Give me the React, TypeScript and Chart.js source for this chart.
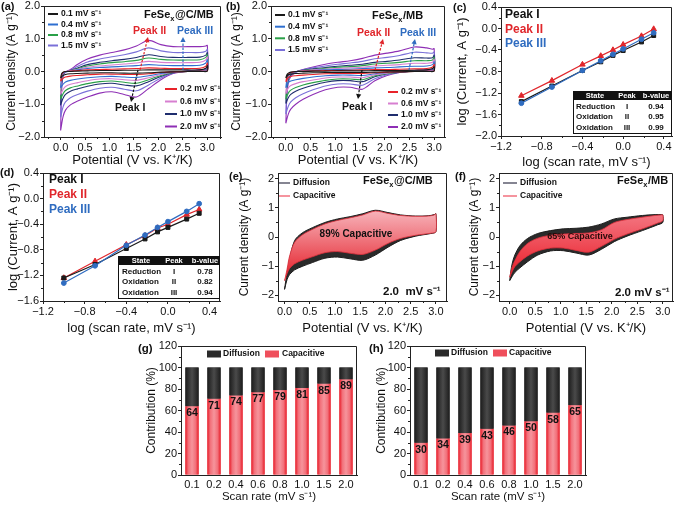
import React, { useEffect, useRef } from 'react';
import { Chart, registerables } from 'chart.js';

Chart.register(...registerables);

const FONT = '"Liberation Sans", Arial, Helvetica, sans-serif';
Chart.defaults.font.family = FONT;

// ================= DATA =================
const SCAN_RATES = ['0.1', '0.2', '0.4', '0.6', '0.8', '1.0', '1.5', '2.0'];
const LOG_RATE = [-1.0, -0.7, -0.4, -0.22, -0.1, 0.0, 0.18, 0.3];

// tick values
const CV_X_TICKS = [0, 0.5, 1, 1.5, 2, 2.5, 3];
const CV_Y_TICKS = [-2, -1, 0, 1, 2];
const LOG_X_TICKS = [-1.2, -0.8, -0.4, 0, 0.4];
const C_Y_TICKS = [-2.0, -1.6, -1.2, -0.8, -0.4, 0, 0.4];
const D_Y_TICKS = [-1.6, -1.2, -0.8, -0.4, 0, 0.4];
const BAR_Y_TICKS = [0, 20, 40, 60, 80, 100, 120];

// potentials of the anodic (upper) and cathodic (lower) branches, V vs K+/K
const CV_UP_E = [0.0, 0.02, 0.05, 0.1, 0.2, 0.35, 0.55, 0.8, 1.05, 1.3, 1.55, 1.8, 2.05, 2.3, 2.6, 2.85, 2.97, 3.0];
const CV_LOW_E = [3.0, 2.9, 2.6, 2.3, 2.05, 1.8, 1.55, 1.3, 1.05, 0.8, 0.55, 0.35, 0.2, 0.1, 0.05, 0.0];

// (a) FeSex@C/MB
const A01_UP = [-0.20, -0.07, -0.02, 0.0, 0.0, 0.01, 0.02, 0.03, 0.03, 0.04, 0.04, 0.05, 0.05, 0.05, 0.05, 0.05, 0.10, 0.18];
const A01_LO = [0.01, 0.0, 0.0, -0.01, -0.02, -0.04, -0.05, -0.05, -0.04, -0.04, -0.05, -0.06, -0.07, -0.09, -0.12, -0.20];
const A02_UP = [-0.30, -0.11, -0.03, 0.0, 0.01, 0.03, 0.05, 0.06, 0.07, 0.08, 0.09, 0.11, 0.10, 0.09, 0.09, 0.10, 0.16, 0.26];
const A02_LO = [0.02, 0.01, 0.0, -0.01, -0.03, -0.07, -0.09, -0.09, -0.08, -0.08, -0.10, -0.12, -0.14, -0.17, -0.21, -0.30];
const A04_UP = [-0.50, -0.18, -0.05, -0.01, 0.01, 0.05, 0.09, 0.12, 0.14, 0.16, 0.18, 0.21, 0.19, 0.18, 0.18, 0.19, 0.26, 0.36];
const A04_LO = [0.03, 0.02, 0.0, -0.02, -0.06, -0.13, -0.18, -0.17, -0.15, -0.16, -0.19, -0.23, -0.27, -0.32, -0.39, -0.50];
const A06_UP = [-0.70, -0.25, -0.07, -0.01, 0.02, 0.07, 0.13, 0.17, 0.20, 0.23, 0.26, 0.31, 0.28, 0.27, 0.27, 0.28, 0.35, 0.45];
const A06_LO = [0.04, 0.02, 0.0, -0.02, -0.09, -0.19, -0.27, -0.25, -0.22, -0.23, -0.28, -0.34, -0.39, -0.46, -0.55, -0.70];
const A08_UP = [-0.85, -0.30, -0.08, -0.01, 0.02, 0.09, 0.17, 0.23, 0.27, 0.30, 0.34, 0.41, 0.37, 0.35, 0.35, 0.36, 0.43, 0.52];
const A08_LO = [0.05, 0.03, 0.0, -0.03, -0.12, -0.25, -0.36, -0.33, -0.29, -0.31, -0.37, -0.44, -0.50, -0.58, -0.68, -0.85];
const A10_UP = [-1.00, -0.36, -0.09, -0.01, 0.03, 0.11, 0.21, 0.28, 0.33, 0.37, 0.43, 0.51, 0.46, 0.43, 0.43, 0.44, 0.50, 0.58];
const A10_LO = [0.06, 0.04, 0.01, -0.04, -0.15, -0.31, -0.44, -0.41, -0.36, -0.38, -0.45, -0.53, -0.60, -0.70, -0.82, -1.02];
const A15_UP = [-1.40, -0.48, -0.12, -0.02, 0.04, 0.16, 0.29, 0.38, 0.45, 0.51, 0.60, 0.72, 0.63, 0.58, 0.58, 0.58, 0.62, 0.68];
const A15_LO = [0.08, 0.05, 0.01, -0.05, -0.20, -0.41, -0.59, -0.54, -0.48, -0.51, -0.60, -0.70, -0.80, -0.93, -1.08, -1.40];
const A20_UP = [-1.80, -0.60, -0.15, -0.02, 0.06, 0.22, 0.38, 0.50, 0.58, 0.66, 0.78, 0.95, 0.82, 0.76, 0.76, 0.76, 0.78, 0.80];
const A20_LO = [0.10, 0.06, 0.02, -0.06, -0.25, -0.52, -0.78, -0.70, -0.62, -0.66, -0.78, -0.90, -1.02, -1.18, -1.38, -1.80];

// (b) FeSex/MB
const B01_UP = [-0.20, -0.10, -0.05, -0.02, 0.0, 0.0, 0.01, 0.01, 0.02, 0.02, 0.02, 0.03, 0.03, 0.03, 0.04, 0.05, 0.09, 0.15];
const B01_LO = [0.01, 0.0, 0.0, -0.01, -0.01, -0.02, -0.03, -0.03, -0.03, -0.03, -0.04, -0.05, -0.06, -0.08, -0.10, -0.20];
const B02_UP = [-0.32, -0.17, -0.08, -0.03, 0.0, 0.01, 0.02, 0.03, 0.03, 0.04, 0.05, 0.06, 0.06, 0.07, 0.08, 0.09, 0.14, 0.22];
const B02_LO = [0.02, 0.01, 0.0, -0.01, -0.02, -0.04, -0.06, -0.06, -0.06, -0.07, -0.09, -0.11, -0.13, -0.15, -0.18, -0.32];
const B04_UP = [-0.50, -0.26, -0.12, -0.05, -0.01, 0.01, 0.03, 0.05, 0.06, 0.07, 0.09, 0.11, 0.12, 0.14, 0.16, 0.17, 0.21, 0.30];
const B04_LO = [0.03, 0.02, 0.01, -0.01, -0.03, -0.07, -0.12, -0.11, -0.11, -0.13, -0.17, -0.21, -0.25, -0.29, -0.34, -0.50];
const B06_UP = [-0.68, -0.35, -0.16, -0.07, -0.01, 0.02, 0.05, 0.07, 0.09, 0.11, 0.13, 0.17, 0.19, 0.21, 0.25, 0.25, 0.28, 0.38];
const B06_LO = [0.04, 0.03, 0.01, -0.01, -0.05, -0.10, -0.19, -0.17, -0.17, -0.20, -0.26, -0.31, -0.37, -0.43, -0.50, -0.68];
const B08_UP = [-0.85, -0.43, -0.20, -0.08, -0.01, 0.03, 0.06, 0.10, 0.13, 0.15, 0.18, 0.23, 0.25, 0.28, 0.33, 0.33, 0.35, 0.44];
const B08_LO = [0.05, 0.03, 0.01, -0.02, -0.06, -0.13, -0.25, -0.23, -0.23, -0.27, -0.34, -0.41, -0.49, -0.57, -0.66, -0.85];
const B10_UP = [-0.98, -0.50, -0.23, -0.10, -0.01, 0.04, 0.08, 0.12, 0.16, 0.19, 0.22, 0.28, 0.31, 0.35, 0.42, 0.41, 0.42, 0.50];
const B10_LO = [0.06, 0.04, 0.02, -0.02, -0.07, -0.16, -0.31, -0.28, -0.28, -0.33, -0.42, -0.51, -0.60, -0.70, -0.80, -0.98];
const B15_UP = [-1.30, -0.66, -0.30, -0.13, -0.02, 0.05, 0.11, 0.17, 0.22, 0.26, 0.31, 0.39, 0.43, 0.49, 0.59, 0.57, 0.56, 0.60];
const B15_LO = [0.07, 0.05, 0.02, -0.03, -0.10, -0.22, -0.42, -0.38, -0.38, -0.44, -0.56, -0.68, -0.80, -0.93, -1.06, -1.30];
const B20_UP = [-1.58, -0.80, -0.35, -0.15, -0.02, 0.06, 0.14, 0.22, 0.28, 0.33, 0.40, 0.50, 0.56, 0.63, 0.75, 0.72, 0.68, 0.70];
const B20_LO = [0.08, 0.06, 0.03, -0.03, -0.12, -0.28, -0.54, -0.48, -0.48, -0.56, -0.70, -0.85, -1.00, -1.15, -1.30, -1.58];

const A_UP = [A01_UP, A02_UP, A04_UP, A06_UP, A08_UP, A10_UP, A15_UP, A20_UP];
const A_LO = [A01_LO, A02_LO, A04_LO, A06_LO, A08_LO, A10_LO, A15_LO, A20_LO];
const B_UP = [B01_UP, B02_UP, B04_UP, B06_UP, B08_UP, B10_UP, B15_UP, B20_UP];
const B_LO = [B01_LO, B02_LO, B04_LO, B06_LO, B08_LO, B10_LO, B15_LO, B20_LO];

// (c) / (d) log(peak current)
const C_PEAK1 = [-1.36, -1.07, -0.78, -0.62, -0.50, -0.41, -0.25, -0.13];
const C_PEAK2 = [-1.25, -0.97, -0.67, -0.51, -0.40, -0.30, -0.14, -0.01];
const C_PEAK3 = [-1.39, -1.09, -0.78, -0.60, -0.48, -0.38, -0.20, -0.08];
const D_PEAK1 = [-1.24, -1.03, -0.78, -0.63, -0.52, -0.45, -0.32, -0.23];
const D_PEAK2 = [-1.24, -0.98, -0.72, -0.58, -0.46, -0.40, -0.25, -0.17];
const D_PEAK3 = [-1.32, -1.05, -0.73, -0.57, -0.45, -0.36, -0.20, -0.08];
const TABLE_STATE = ['Reduction', 'Oxidation', 'Oxidation'];
const TABLE_PEAK = ['I', 'II', 'III'];
const C_BVALUE = ['0.94', '0.95', '0.99'];
const D_BVALUE = ['0.78', '0.82', '0.94'];

// (e) / (f) 2.0 mV/s separation: total (diffusion outline) and capacitive
const E_TOT_UP = [-1.80, -1.55, -1.25, -0.75, -0.12, 0.14, 0.32, 0.50, 0.62, 0.70, 0.80, 0.92, 0.84, 0.76, 0.72, 0.73, 0.77, 0.80];
const E_TOT_LO = [0.18, 0.12, 0.03, -0.12, -0.35, -0.62, -0.80, -0.75, -0.69, -0.73, -0.88, -1.01, -1.13, -1.29, -1.46, -1.80];
const E_CAP_UP = [-1.50, -1.35, -1.10, -0.65, -0.18, 0.07, 0.26, 0.45, 0.57, 0.66, 0.76, 0.89, 0.81, 0.74, 0.71, 0.72, 0.76, 0.80];
const E_CAP_LO = [0.18, 0.13, 0.06, -0.05, -0.22, -0.45, -0.60, -0.56, -0.50, -0.54, -0.68, -0.80, -0.92, -1.08, -1.26, -1.50];
const F_TOT_UP = [-1.50, -1.20, -0.90, -0.62, -0.30, -0.05, 0.12, 0.22, 0.28, 0.30, 0.34, 0.45, 0.62, 0.68, 0.74, 0.77, 0.77, 0.76];
const F_TOT_LO = [0.50, 0.42, 0.22, 0.03, -0.16, -0.42, -0.62, -0.55, -0.47, -0.48, -0.62, -0.85, -1.06, -1.22, -1.35, -1.50];
const F_CAP_UP = [-1.38, -1.22, -1.02, -0.82, -0.50, -0.22, -0.04, 0.06, 0.10, 0.12, 0.14, 0.25, 0.50, 0.60, 0.68, 0.74, 0.76, 0.76];
const F_CAP_LO = [0.56, 0.48, 0.28, 0.10, -0.08, -0.32, -0.52, -0.46, -0.38, -0.38, -0.48, -0.65, -0.85, -1.02, -1.18, -1.38];

// (g) / (h) contribution (%)
const G_CAP = [64, 71, 74, 77, 79, 81, 85, 89];
const G_DIF = [36, 29, 26, 23, 21, 19, 15, 11];
const H_CAP = [30, 34, 39, 43, 46, 50, 58, 65];
const H_DIF = [70, 66, 61, 57, 54, 50, 42, 35];

// ================= STYLE =================
const CV_COLORS = ['#1a1a1a', '#e8232a', '#2e6fd0', '#d77fd0', '#2aa048', '#1f2d6e', '#7a70d8', '#8e2fb5'];
const RED = '#e0262b';
const BLUE = '#2f6cc0';
const INK = '#111';
const SUP = ' mV s\u207B\u00B9';

type Box = { x: number; y: number; w: number; h: number };
type Area = { l: number; t: number; r: number; b: number };

const fmt1 = (v: number) => (Math.abs(v) < 1e-9 ? '0.0' : (v < 0 ? '\u2212' : '') + Math.abs(v).toFixed(1));
const fmt0 = (v: number) => (Math.abs(v) < 1e-9 ? '0' : (v < 0 ? '\u2212' : '') + Math.abs(v).toFixed(0));

function zeroPad(s: any) {
  s.paddingTop = 0; s.paddingBottom = 0; s.paddingLeft = 0; s.paddingRight = 0;
}

function yAxis(box: Box, area: Area, min: number, max: number, ticks: number[], fmt: (v: number) => string, title: string, tSize: number, titleX: number) {
  const lh = tSize * 1.2;
  return {
    type: 'linear', position: 'left', min, max,
    afterBuildTicks: (s: any) => { s.ticks = ticks.map((v) => ({ value: v })); },
    ticks: { autoSkip: false, font: { family: FONT, size: 11 }, color: INK, padding: 1, callback: (v: any) => fmt(Number(v)) },
    grid: { display: true, drawOnChartArea: false, drawTicks: true, tickLength: 3, tickColor: '#222', color: '#222' },
    border: { display: true, color: '#222', width: 1 },
    title: { display: true, text: title, color: INK, font: { family: FONT, size: tSize }, padding: { top: titleX - box.x - lh / 2, bottom: 0 } },
    afterFit: (s: any) => { s.width = area.l - box.x; zeroPad(s); },
  };
}

function xAxis(box: Box, area: Area, min: number, max: number, ticks: number[], fmt: (v: number) => string, title: string, tSize: number, titleY: number) {
  const lh = tSize * 1.2;
  return {
    type: 'linear', position: 'bottom', min, max,
    afterBuildTicks: (s: any) => { s.ticks = ticks.map((v) => ({ value: v })); },
    ticks: { autoSkip: false, maxRotation: 0, font: { family: FONT, size: 11 }, color: INK, padding: 1, callback: (v: any) => fmt(Number(v)) },
    grid: { display: true, drawOnChartArea: false, drawTicks: true, tickLength: 3, tickColor: '#222', color: '#222' },
    border: { display: true, color: '#222', width: 1 },
    title: { display: true, text: title, color: INK, font: { family: FONT, size: tSize }, padding: { top: 0, bottom: box.y + box.h - titleY - lh / 2 } },
    afterFit: (s: any) => { s.height = box.y + box.h - area.b; zeroPad(s); },
  };
}

function layoutFor(box: Box, area: Area) {
  return { padding: { left: 0, top: area.t - box.y, right: box.x + box.w - area.r, bottom: 0 } };
}

// ---------- drawing helpers ----------
function txt(ctx: CanvasRenderingContext2D, s: string, x: number, y: number, size: number, color = INK, bold = true, align: CanvasTextAlign = 'left') {
  ctx.font = `${bold ? 'bold ' : ''}${size}px ${FONT}`;
  ctx.fillStyle = color;
  ctx.textAlign = align;
  ctx.textBaseline = 'middle';
  ctx.fillText(s, x, y);
  return ctx.measureText(s).width;
}

function chem(ctx: CanvasRenderingContext2D, x: number, y: number, size: number, suffix: string) {
  let w = txt(ctx, 'FeSe', x, y, size);
  w += txt(ctx, 'x', x + w, y + size * 0.32, size * 0.68);
  txt(ctx, suffix, x + w + 0.5, y, size);
}

function arrow(ctx: CanvasRenderingContext2D, x1: number, y1: number, x2: number, y2: number, color: string) {
  const ang = Math.atan2(y2 - y1, x2 - x1);
  const hl = 5, hw = 2.6;
  const bx = x2 - Math.cos(ang) * hl, by = y2 - Math.sin(ang) * hl;
  ctx.save();
  ctx.strokeStyle = color; ctx.fillStyle = color; ctx.lineWidth = 1.2;
  ctx.setLineDash([2.5, 1.5]);
  ctx.beginPath(); ctx.moveTo(x1, y1); ctx.lineTo(bx, by); ctx.stroke();
  ctx.setLineDash([]);
  ctx.beginPath(); ctx.moveTo(x2, y2);
  ctx.lineTo(bx + Math.sin(ang) * hw, by - Math.cos(ang) * hw);
  ctx.lineTo(bx - Math.sin(ang) * hw, by + Math.cos(ang) * hw);
  ctx.closePath(); ctx.fill();
  ctx.restore();
}

function hline(ctx: CanvasRenderingContext2D, x1: number, x2: number, y: number, color: string, w = 2) {
  ctx.save(); ctx.strokeStyle = color; ctx.lineWidth = w;
  ctx.beginPath(); ctx.moveTo(x1, y); ctx.lineTo(x2, y); ctx.stroke(); ctx.restore();
}

function legendRows(ctx: CanvasRenderingContext2D, idx: number[], x1: number, x2: number, tx: number, ys: number[]) {
  idx.forEach((k, j) => {
    hline(ctx, x1, x2, ys[j], CV_COLORS[k], 2);
    txt(ctx, SCAN_RATES[k] + SUP, tx, ys[j], 8.5);
  });
}

function table(ctx: CanvasRenderingContext2D, l: number, t: number, r: number, b: number, hb: number, colX: number[], labelX: number, rowYs: number[], bvals: string[]) {
  ctx.save();
  ctx.fillStyle = '#fff'; ctx.fillRect(l, t, r - l, b - t);
  ctx.strokeStyle = '#111'; ctx.lineWidth = 1; ctx.strokeRect(l + 0.5, t + 0.5, r - l - 1, b - t - 1);
  ctx.fillStyle = '#111'; ctx.fillRect(l, t, r - l, hb - t);
  ctx.restore();
  const hy = (t + hb) / 2 + 0.5;
  txt(ctx, 'State', colX[0], hy, 7.5, '#fff', true, 'center');
  txt(ctx, 'Peak', colX[1], hy, 7.5, '#fff', true, 'center');
  txt(ctx, 'b-value', colX[2], hy, 7.5, '#fff', true, 'center');
  TABLE_STATE.forEach((s, i) => {
    txt(ctx, s, labelX, rowYs[i], 8);
    txt(ctx, TABLE_PEAK[i], colX[1], rowYs[i], 8, INK, true, 'center');
    txt(ctx, bvals[i], colX[2], rowYs[i], 8, INK, true, 'center');
  });
}

type Minor = { step: number; major: number } | null;

function decoPlugin(box: Box, minorX: Minor, minorY: Minor, draw?: (ctx: CanvasRenderingContext2D, chart: any) => void) {
  return {
    id: 'deco',
    afterDraw(chart: any) {
      const ctx: CanvasRenderingContext2D = chart.ctx;
      const a = chart.chartArea;
      ctx.save();
      ctx.strokeStyle = '#222';
      ctx.lineWidth = 1;
      const top = Math.round(a.top) + 0.5;
      const right = Math.round(a.right) - 0.5;
      ctx.beginPath();
      ctx.moveTo(a.left, top); ctx.lineTo(right, top); ctx.lineTo(right, a.bottom);
      ctx.stroke();
      const minor = (scale: any, m: Minor, isX: boolean) => {
        if (!m) return;
        const k0 = Math.ceil(scale.min / m.step - 1e-6);
        for (let k = k0; k * m.step <= scale.max + 1e-6; k++) {
          const v = k * m.step;
          const q = v / m.major;
          if (Math.abs(q - Math.round(q)) < 1e-6) continue;
          const p = Math.round(scale.getPixelForValue(v)) + 0.5;
          ctx.beginPath();
          if (isX) { ctx.moveTo(p, a.bottom); ctx.lineTo(p, a.bottom + 2); }
          else { ctx.moveTo(a.left - 2, p); ctx.lineTo(a.left, p); }
          ctx.stroke();
        }
      };
      minor(chart.scales.x, minorX, true);
      minor(chart.scales.y, minorY, false);
      ctx.translate(-box.x, -box.y);
      if (draw) draw(ctx, chart);
      ctx.restore();
    },
  };
}

const baseOptions = (box: Box, area: Area) => ({
  animation: false,
  responsive: false,
  devicePixelRatio: 1,
  events: [],
  layout: layoutFor(box, area),
  plugins: { legend: { display: false }, tooltip: { enabled: false } },
});

function loop(up: number[], lo: number[]) {
  const pts = CV_UP_E.map((x, i) => ({ x, y: up[i] })).concat(CV_LOW_E.map((x, i) => ({ x, y: lo[i] })));
  pts.push(pts[0]);
  return pts;
}

// ================= PANELS =================
const POT_TITLE = 'Potential (V vs. K\u207A/K)';
const CD_TITLE = 'Current density (A g\u207B\u00B9)';

function cvPanel(box: Box, area: Area, xmin: number, xmax: number, ups: number[][], los: number[][], yTitleX: number, draw: (ctx: CanvasRenderingContext2D) => void) {
  return {
    box,
    config: {
      type: 'line',
      data: {
        datasets: SCAN_RATES.map((r, i) => ({
          label: r + SUP,
          data: loop(ups[i], los[i]),
          borderColor: CV_COLORS[i],
          borderWidth: 1.1,
          pointRadius: 0,
          tension: 0.3,
          fill: false,
        })),
      },
      options: {
        ...baseOptions(box, area),
        scales: {
          x: xAxis(box, area, xmin, xmax, CV_X_TICKS, fmt1, POT_TITLE, 13, 160),
          y: yAxis(box, area, -2, 2, CV_Y_TICKS, fmt1, CD_TITLE, 12, yTitleX),
        },
      },
      plugins: [decoPlugin(box, { step: 0.25, major: 0.5 }, { step: 0.5, major: 1 }, draw)],
    },
  };
}

function logPanel(box: Box, area: Area, xmax: number, ymin: number, yTicks: number[], p1: number[], p2: number[], p3: number[], yTitleX: number, titleY: number, draw: (ctx: CanvasRenderingContext2D) => void) {
  const ds = (vals: number[], color: string, style: string, r: number) => ({
    data: LOG_RATE.map((x, i) => ({ x, y: vals[i] })),
    borderColor: color, backgroundColor: color, pointBackgroundColor: color, pointBorderColor: color,
    borderWidth: 1.2, pointStyle: style, pointRadius: r, pointBorderWidth: 1, tension: 0, fill: false,
  });
  return {
    box,
    config: {
      type: 'line',
      data: { datasets: [ds(p3, BLUE, 'circle', 2.4), ds(p1, '#1a1a1a', 'rect', 2.8), ds(p2, RED, 'triangle', 3.2)] },
      options: {
        ...baseOptions(box, area),
        scales: {
          x: xAxis(box, area, -1.2, xmax, LOG_X_TICKS, fmt1, 'log (scan rate, mV s\u207B\u00B9)', 13, titleY),
          y: yAxis(box, area, ymin, 0.4, yTicks, fmt1, 'log (Current, A g\u207B\u00B9)', 13, yTitleX),
        },
      },
      plugins: [decoPlugin(box, { step: 0.2, major: 0.4 }, { step: 0.2, major: 0.4 }, draw)],
    },
  };
}

function sepPanel(box: Box, area: Area, xmin: number, xmax: number, totUp: number[], totLo: number[], capUp: number[], capLo: number[], yTitleX: number, light: string, deep: string, draw: (ctx: CanvasRenderingContext2D) => void) {
  const grad = (c: any) => {
    const ch = c.chart;
    if (!ch.chartArea) return deep;
    const ys = ch.scales.y;
    const g = ch.ctx.createLinearGradient(0, ys.getPixelForValue(0.9), 0, ys.getPixelForValue(-1.6));
    g.addColorStop(0, light);
    g.addColorStop(1, deep);
    return g;
  };
  return {
    box,
    config: {
      type: 'line',
      data: {
        datasets: [
          { label: 'Capacitive', data: loop(capUp, capLo), borderColor: '#e0303c', borderWidth: 0.8, backgroundColor: grad, fill: 'shape', pointRadius: 0, tension: 0.3 },
          { label: 'Diffusion', data: loop(totUp, totLo), borderColor: '#1e1e1e', borderWidth: 1, backgroundColor: '#2a2a2a', fill: 'shape', pointRadius: 0, tension: 0.3 },
        ],
      },
      options: {
        ...baseOptions(box, area),
        scales: {
          x: xAxis(box, area, xmin, xmax, CV_X_TICKS, fmt1, POT_TITLE, 13, 328),
          y: yAxis(box, area, -2.2, 2.2, CV_Y_TICKS, fmt0, CD_TITLE, 12, yTitleX),
        },
      },
      plugins: [decoPlugin(box, { step: 0.25, major: 0.5 }, { step: 0.5, major: 1 }, draw)],
    },
  };
}

function barPanel(box: Box, area: Area, cap: number[], dif: number[], yTitleX: number, draw: (ctx: CanvasRenderingContext2D) => void) {
  const tSize = 11.5;
  const lh = tSize * 1.2;
  const gradPlugin = {
    id: 'bargrad',
    afterDatasetsDraw(chart: any) {
      const ctx: CanvasRenderingContext2D = chart.ctx;
      [0, 1].forEach((di) => {
        const meta = chart.getDatasetMeta(di);
        meta.data.forEach((el: any) => {
          const p = el.getProps(['x', 'y', 'base', 'width'], true);
          const l = p.x - p.width / 2;
          const g = ctx.createLinearGradient(l, 0, l + p.width, 0);
          if (di === 0) {
            g.addColorStop(0, '#e81c28'); g.addColorStop(0.22, '#f2707a'); g.addColorStop(0.5, '#f6949c');
            g.addColorStop(0.78, '#f2707a'); g.addColorStop(1, '#e81c28');
          } else {
            g.addColorStop(0, '#1c1c1c'); g.addColorStop(0.5, '#4a4a4a'); g.addColorStop(1, '#1c1c1c');
          }
          ctx.save();
          ctx.fillStyle = g;
          ctx.fillRect(l, Math.min(p.y, p.base), p.width, Math.abs(p.base - p.y));
          ctx.restore();
        });
      });
      const meta0 = chart.getDatasetMeta(0);
      meta0.data.forEach((el: any, i: number) => {
        const p = el.getProps(['x', 'y'], true);
        txt(ctx, String(cap[i]), p.x, p.y + 7, 10.5, INK, true, 'center');
      });
    },
  };
  return {
    box,
    config: {
      type: 'bar',
      data: {
        labels: SCAN_RATES,
        datasets: [
          { label: 'Capacitive', data: cap, backgroundColor: '#ef5560', barPercentage: 0.6, categoryPercentage: 1 },
          { label: 'Diffusion', data: dif, backgroundColor: '#2a2a2a', barPercentage: 0.6, categoryPercentage: 1 },
        ],
      },
      options: {
        ...baseOptions(box, area),
        scales: {
          x: {
            type: 'category', stacked: true, offset: true,
            ticks: { font: { family: FONT, size: 11 }, color: INK, padding: 3, maxRotation: 0, autoSkip: false },
            grid: { display: false, drawTicks: false, tickLength: 0 },
            border: { display: true, color: '#222', width: 1 },
            title: { display: true, text: 'Scan rate (mV s\u207B\u00B9)', color: INK, font: { family: FONT, size: tSize }, padding: { top: 0, bottom: box.y + box.h - 497 - lh / 2 } },
            afterFit: (s: any) => { s.height = box.y + box.h - area.b; zeroPad(s); },
          },
          y: { ...yAxis(box, area, 0, 120, BAR_Y_TICKS, fmt0, 'Contribution (%)', 12, yTitleX), stacked: true },
        },
      },
      plugins: [gradPlugin, decoPlugin(box, null, { step: 10, major: 20 }, draw)],
    },
  };
}

function sepLegend(ctx: CanvasRenderingContext2D, x1: number, x2: number, tx: number) {
  hline(ctx, x1, x2, 183, '#5c5c6e', 1.5);
  txt(ctx, 'Diffusion', tx, 183, 8.5);
  hline(ctx, x1, x2, 196, '#f2707e', 1.5);
  txt(ctx, 'Capacitive', tx, 196, 8.5);
}

function barLegend(ctx: CanvasRenderingContext2D, bx: number, tx: number, rx: number, rtx: number, y: number) {
  ctx.save();
  ctx.fillStyle = '#2a2a2a'; ctx.fillRect(bx, y - 3.5, 14, 7);
  ctx.fillStyle = '#ef4f5c'; ctx.fillRect(rx, y - 3.5, 14, 7);
  ctx.restore();
  txt(ctx, 'Diffusion', tx, y, 8.5);
  txt(ctx, 'Capacitive', rtx, y, 8.5);
}

const PANELS = [
  cvPanel({ x: 0, y: 0, w: 226, h: 170 }, { l: 44, t: 6, r: 221, b: 137 }, -0.34, 3.28, A_UP, A_LO, 12, (ctx) => {
    txt(ctx, '(a)', 1, 7, 11);
    chem(ctx, 144, 15, 11, '@C/MB');
    legendRows(ctx, [0, 2, 4, 6], 48, 58, 61, [14, 24.5, 35, 45.5]);
    legendRows(ctx, [1, 3, 5, 7], 165, 177, 180, [89, 101.5, 114, 126.5]);
    arrow(ctx, 140, 70, 148, 37, RED);
    arrow(ctx, 183, 70, 183, 37, BLUE);
    arrow(ctx, 138, 70, 131, 102, INK);
    txt(ctx, 'Peak II', 133, 31, 10.5, RED);
    txt(ctx, 'Peak III', 177, 31, 10.5, BLUE);
    txt(ctx, 'Peak I', 115, 108, 10.5, INK);
  }),
  cvPanel({ x: 226, y: 0, w: 224, h: 170 }, { l: 271, t: 6, r: 445, b: 137 }, -0.3, 3.22, B_UP, B_LO, 237, (ctx) => {
    txt(ctx, '(b)', 226, 7, 11);
    chem(ctx, 372, 16, 11, '/MB');
    legendRows(ctx, [0, 2, 4, 6], 275, 285, 288, [15, 26.7, 38.3, 50]);
    legendRows(ctx, [1, 3, 5, 7], 388, 398, 401, [92, 103.5, 115, 127]);
    arrow(ctx, 375, 70, 383, 39, RED);
    arrow(ctx, 409, 70, 415, 39, BLUE);
    arrow(ctx, 362, 70, 358, 99, INK);
    txt(ctx, 'Peak II', 357, 33, 10.5, RED);
    txt(ctx, 'Peak III', 400, 33, 10.5, BLUE);
    txt(ctx, 'Peak I', 342, 107, 10.5, INK);
  }),
  logPanel({ x: 450, y: 0, w: 227, h: 172 }, { l: 501, t: 7, r: 672, b: 136 }, 0.48, -2.0, C_Y_TICKS, C_PEAK1, C_PEAK2, C_PEAK3, 462, 162, (ctx) => {
    txt(ctx, '(c)', 453, 8, 11);
    txt(ctx, 'Peak I', 505, 15, 12, INK);
    txt(ctx, 'Peak II', 505, 30, 12, RED);
    txt(ctx, 'Peak III', 505, 44, 12, BLUE);
    table(ctx, 573, 91, 672, 134, 100, [595, 627, 656], 576, [107, 117, 127.5], C_BVALUE);
  }),
  logPanel({ x: 0, y: 165, w: 226, h: 172 }, { l: 43, t: 173, r: 220, b: 301 }, 0.5, -1.6, D_Y_TICKS, D_PEAK1, D_PEAK2, D_PEAK3, 13, 328, (ctx) => {
    txt(ctx, '(d)', 0, 173, 11);
    txt(ctx, 'Peak I', 49, 180, 12, INK);
    txt(ctx, 'Peak II', 49, 195, 12, RED);
    txt(ctx, 'Peak III', 49, 209.5, 12, BLUE);
    table(ctx, 118, 256, 220, 299, 265, [141, 174, 205], 122, [272, 282, 292.5], D_BVALUE);
  }),
  sepPanel({ x: 226, y: 165, w: 224, h: 172 }, { l: 278, t: 173, r: 447, b: 301 }, -0.13, 3.22, E_TOT_UP, E_TOT_LO, E_CAP_UP, E_CAP_LO, 245, '#f7b3ba', '#e3141e', (ctx) => {
    txt(ctx, '(e)', 229, 177, 11);
    sepLegend(ctx, 279, 290, 293);
    chem(ctx, 363, 181, 11, '@C/MB');
    txt(ctx, '89% Capacitive', 356, 234, 10, INK, true, 'center');
    txt(ctx, '2.0  mV s\u207B\u00B9', 383, 292, 11.5);
  }),
  sepPanel({ x: 450, y: 165, w: 227, h: 172 }, { l: 499, t: 173, r: 673, b: 301 }, -0.21, 3.2, F_TOT_UP, F_TOT_LO, F_CAP_UP, F_CAP_LO, 475, '#f47a86', '#e8141e', (ctx) => {
    txt(ctx, '(f)', 455, 177, 11);
    sepLegend(ctx, 503, 517, 520);
    chem(ctx, 617, 181, 11, '/MB');
    txt(ctx, '65% Capacitive', 580, 237, 9, '#2a0a0a', true, 'center');
    txt(ctx, '2.0 mV s\u207B\u00B9', 615, 293, 11.5);
  }),
  barPanel({ x: 128, y: 338, w: 236, h: 167 }, { l: 181, t: 346, r: 357, b: 475 }, G_CAP, G_DIF, 152, (ctx) => {
    txt(ctx, '(g)', 138, 349, 11.5);
    barLegend(ctx, 207, 223, 265, 282, 354);
  }),
  barPanel({ x: 364, y: 338, w: 236, h: 167 }, { l: 410, t: 346, r: 586, b: 475 }, H_CAP, H_DIF, 382, (ctx) => {
    txt(ctx, '(h)', 369, 349, 11.5);
    barLegend(ctx, 435, 451, 493, 509, 353);
  }),
];

function PanelCanvas({ panel }: { panel: any }) {
  const ref = useRef<HTMLCanvasElement>(null);
  useEffect(() => {
    const chart = new Chart(ref.current as HTMLCanvasElement, panel.config as any);
    return () => chart.destroy();
  }, [panel]);
  const b = panel.box;
  return (
    <canvas
      ref={ref}
      width={b.w}
      height={b.h}
      style={{ position: 'absolute', left: b.x, top: b.y, width: b.w, height: b.h }}
    />
  );
}

export default function App() {
  return (
    <div style={{ position: 'absolute', left: 0, top: 0, width: 677, height: 505, background: '#fff', overflow: 'hidden' }}>
      {PANELS.map((p, i) => (
        <PanelCanvas key={i} panel={p} />
      ))}
    </div>
  );
}
